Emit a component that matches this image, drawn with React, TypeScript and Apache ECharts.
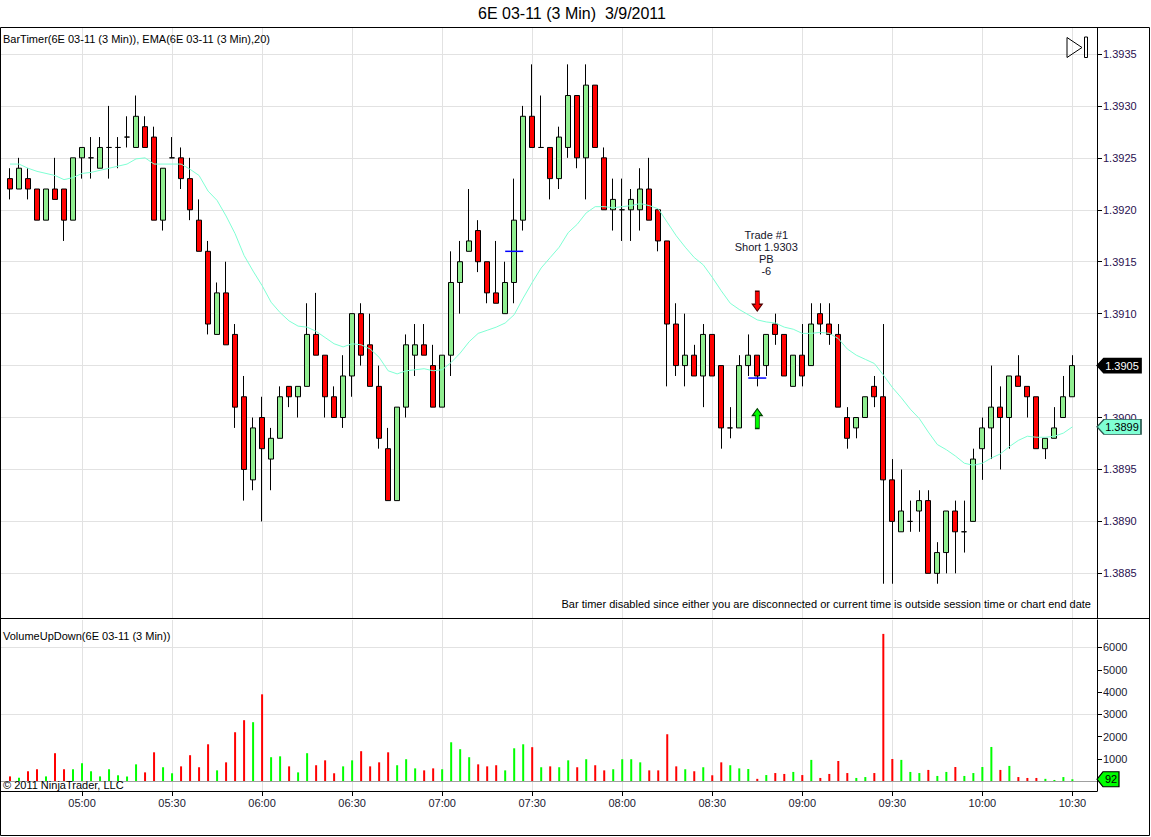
import React, { useEffect, useRef } from 'react';
import * as echarts from 'echarts';

// ---- data (3-minute bars, first bar at 04:36) ----
const START_MINUTE = 276; // 04:36
const BAR_MINUTES = 3;

const OPENS = [
  1.3923, 1.3922, 1.3923, 1.3922, 1.3919, 1.3922, 1.3922, 1.3919, 1.3925, 1.3925,
  1.3924, 1.3926, 1.3926, 1.3927, 1.3926, 1.3928, 1.3927, 1.3919, 1.3925, 1.3925,
  1.3923, 1.3919, 1.3916, 1.3908, 1.3912, 1.3908, 1.3902, 1.3894, 1.3900, 1.3896,
  1.3898, 1.3903, 1.3902, 1.3903, 1.3908, 1.3906, 1.3902, 1.3900, 1.3904, 1.3910,
  1.3907, 1.3903, 1.3897, 1.3892, 1.3901, 1.3906, 1.3907, 1.3905, 1.3901, 1.3906,
  1.3913, 1.3916, 1.3918, 1.3915, 1.3912, 1.3910, 1.3913, 1.3919, 1.3929, 1.3926,
  1.3926, 1.3923, 1.3926, 1.3931, 1.3925, 1.3932, 1.3925, 1.3920, 1.3920, 1.3920,
  1.3920, 1.3922, 1.3920, 1.3917, 1.3909, 1.3905, 1.3906, 1.3904, 1.3908, 1.3905,
  1.3899, 1.3899, 1.3905, 1.3906, 1.3905, 1.3909, 1.3908, 1.3903, 1.3906, 1.3905,
  1.3910, 1.3909, 1.3908, 1.3900, 1.3899, 1.3900, 1.3903, 1.3902, 1.3894, 1.3889,
  1.3890, 1.3891, 1.3892, 1.3885, 1.3887, 1.3891, 1.3889, 1.3890, 1.3897, 1.3899,
  1.3901, 1.3900, 1.3904, 1.3903, 1.3902, 1.3897, 1.3898, 1.3900, 1.3902,
];

const CLOSES = [
  1.3922, 1.3924, 1.3922, 1.3919, 1.3922, 1.3921, 1.3919, 1.3925, 1.3926, 1.3925,
  1.3926, 1.3926, 1.3926, 1.3927, 1.3929, 1.3926, 1.3919, 1.3924, 1.3925, 1.3923,
  1.3920, 1.3916, 1.3909, 1.3912, 1.3907, 1.3901, 1.3895, 1.3899, 1.3897, 1.3898,
  1.3902, 1.3902, 1.3903, 1.3908, 1.3906, 1.3902, 1.3900, 1.3904, 1.3910, 1.3906,
  1.3903, 1.3898, 1.3892, 1.3901, 1.3907, 1.3907, 1.3906, 1.3901, 1.3906, 1.3913,
  1.3915, 1.3917, 1.3915, 1.3912, 1.3911, 1.3913, 1.3919, 1.3929, 1.3926, 1.3926,
  1.3923, 1.3927, 1.3931, 1.3925, 1.3932, 1.3926, 1.3920, 1.3921, 1.3920, 1.3921,
  1.3922, 1.3919, 1.3917, 1.3909, 1.3905, 1.3906, 1.3904, 1.3908, 1.3904, 1.3899,
  1.3899, 1.3905, 1.3906, 1.3904, 1.3908, 1.3908, 1.3904, 1.3906, 1.3904, 1.3909,
  1.3909, 1.3908, 1.3901, 1.3898, 1.3900, 1.3902, 1.3902, 1.3894, 1.3890, 1.3891,
  1.3890, 1.3892, 1.3885, 1.3887, 1.3891, 1.3889, 1.3889, 1.3896, 1.3899, 1.3901,
  1.3900, 1.3904, 1.3903, 1.3902, 1.3897, 1.3898, 1.3899, 1.3902, 1.3905,
];

const LOWS = [
  1.3921, 1.3922, 1.3921, 1.3919, 1.3919, 1.3921, 1.3917, 1.3919, 1.3923, 1.3923,
  1.3924, 1.3923, 1.3924, 1.3926, 1.3926, 1.3926, 1.3919, 1.3918, 1.3925, 1.3922,
  1.3919, 1.3916, 1.3908, 1.3908, 1.3907, 1.3899, 1.3892, 1.3893, 1.3890, 1.3893,
  1.3898, 1.3901, 1.3900, 1.3903, 1.3906, 1.3900, 1.3900, 1.3899, 1.3902, 1.3905,
  1.3903, 1.3897, 1.3892, 1.3892, 1.3900, 1.3904, 1.3906, 1.3901, 1.3901, 1.3904,
  1.3910, 1.3916, 1.3914, 1.3911, 1.3911, 1.3910, 1.3911, 1.3918, 1.3926, 1.3926,
  1.3921, 1.3922, 1.3925, 1.3924, 1.3921, 1.3926, 1.3920, 1.3918, 1.3917, 1.3917,
  1.3918, 1.3919, 1.3916, 1.3903, 1.3904, 1.3903, 1.3904, 1.3901, 1.3904, 1.3897,
  1.3898, 1.3899, 1.3904, 1.3903, 1.3904, 1.3907, 1.3904, 1.3903, 1.3903, 1.3905,
  1.3908, 1.3907, 1.3901, 1.3897, 1.3898, 1.3900, 1.3901, 1.3884, 1.3884, 1.3889,
  1.3889, 1.3889, 1.3885, 1.3884, 1.3885, 1.3885, 1.3887, 1.3890, 1.3894, 1.3896,
  1.3895, 1.3897, 1.3903, 1.3900, 1.3897, 1.3896, 1.3898, 1.3900, 1.3902,
];

const HIGHS = [
  1.3924, 1.3925, 1.3924, 1.3922, 1.3922, 1.3925, 1.3922, 1.3925, 1.3926, 1.3927,
  1.3927, 1.3930, 1.3927, 1.3929, 1.3931, 1.3929, 1.3928, 1.3924, 1.3927, 1.3926,
  1.3925, 1.3921, 1.3917, 1.3913, 1.3915, 1.3909, 1.3904, 1.3900, 1.3902, 1.3899,
  1.3903, 1.3903, 1.3903, 1.3911, 1.3912, 1.3906, 1.3903, 1.3906, 1.3910, 1.3911,
  1.3910, 1.3905, 1.3899, 1.3901, 1.3908, 1.3909, 1.3909, 1.3907, 1.3906, 1.3916,
  1.3917, 1.3922, 1.3919, 1.3915, 1.3917, 1.3915, 1.3923, 1.3930, 1.3934, 1.3931,
  1.3926, 1.3928, 1.3934, 1.3931, 1.3934, 1.3932, 1.3926, 1.3923, 1.3923, 1.3922,
  1.3924, 1.3925, 1.3920, 1.3917, 1.3911, 1.3910, 1.3907, 1.3909, 1.3908, 1.3905,
  1.3901, 1.3906, 1.3908, 1.3906, 1.3908, 1.3910, 1.3908, 1.3906, 1.3909, 1.3911,
  1.3911, 1.3911, 1.3909, 1.3901, 1.3900, 1.3902, 1.3904, 1.3909, 1.3896, 1.3895,
  1.3892, 1.3893, 1.3893, 1.3888, 1.3891, 1.3892, 1.3892, 1.3897, 1.3900, 1.3905,
  1.3903, 1.3904, 1.3906, 1.3903, 1.3902, 1.3898, 1.3901, 1.3904, 1.3906,
];

const VOLUMES = [
  220, 160, 450, 540, 220, 1260, 540, 540, 810, 450,
  220, 540, 270, 220, 760, 400, 1300, 630, 360, 670,
  1170, 630, 1660, 490, 850, 2200, 2740, 2650, 3900, 1080,
  1120, 670, 400, 1260, 720, 940, 360, 670, 940, 1350,
  670, 850, 1300, 720, 990, 580, 490, 580, 540, 1750,
  1440, 1080, 760, 670, 720, 490, 1480, 1660, 1530, 630,
  670, 630, 940, 630, 990, 720, 490, 540, 990, 990,
  850, 490, 490, 2110, 670, 540, 450, 630, 270, 850,
  720, 580, 550, 110, 280, 370, 330, 420, 280, 960,
  150, 330, 910, 370, 150, 190, 370, 6610, 1000, 960,
  420, 370, 510, 240, 420, 640, 240, 370, 640, 1540,
  510, 690, 190, 150, 150, 110, 60, 190, 92,
];

const EMA20 = [
  1.39244, 1.39244, 1.39240, 1.39237, 1.39235, 1.39233, 1.39229, 1.39231, 1.39235, 1.39236,
  1.39238, 1.39240, 1.39242, 1.39244, 1.39249, 1.39250, 1.39244, 1.39244, 1.39244, 1.39244,
  1.39239, 1.39233, 1.39218, 1.39209, 1.39194, 1.39177, 1.39156, 1.39141, 1.39127, 1.39111,
  1.39101, 1.39093, 1.39088, 1.39087, 1.39083, 1.39077, 1.39071, 1.39068, 1.39071, 1.39070,
  1.39066, 1.39058, 1.39045, 1.39042, 1.39045, 1.39046, 1.39047, 1.39045, 1.39046, 1.39053,
  1.39062, 1.39073, 1.39081, 1.39084, 1.39087, 1.39091, 1.39099, 1.39115, 1.39130, 1.39144,
  1.39154, 1.39164, 1.39178, 1.39186, 1.39197, 1.39203, 1.39203, 1.39202, 1.39203, 1.39204,
  1.39206, 1.39204, 1.39201, 1.39188, 1.39175, 1.39164, 1.39154, 1.39147, 1.39135, 1.39122,
  1.39110, 1.39104, 1.39099, 1.39094, 1.39092, 1.39091, 1.39087, 1.39085, 1.39081, 1.39081,
  1.39082, 1.39081, 1.39076, 1.39066, 1.39060, 1.39056, 1.39052, 1.39041, 1.39029, 1.39019,
  1.39008, 1.38999, 1.38986, 1.38974, 1.38969, 1.38963, 1.38956, 1.38954, 1.38956, 1.38961,
  1.38965, 1.38972, 1.38978, 1.38982, 1.38981, 1.38981, 1.38982, 1.38985, 1.38991,
];

const PRICE_TICKS = [1.3885, 1.389, 1.3895, 1.39, 1.3905, 1.391, 1.3915, 1.392, 1.3925, 1.393, 1.3935];
const VOLUME_TICKS = [1000, 2000, 3000, 4000, 5000, 6000];
const VOLUME_GRID_TICKS = [0, 3000, 6000];
const TIME_TICKS = [300, 330, 360, 390, 420, 450, 480, 510, 540, 570, 600, 630];

// trade markers
const ENTRY_BAR = 56;
const ENTRY_PRICE = 1.3916;
const TRADE_BAR = 83;
const EXIT_PRICE = 1.39038;
const DOWN_ARROW_PRICE = 1.39112;
const UP_ARROW_PRICE = 1.38999;
const TRADE_LABEL_PRICE = 1.39158;
const TRADE_TEXT = 'Trade #1\nShort 1.9303\nPB\n-6';

const TITLE = '6E 03-11 (3 Min)  3/9/2011';
const PRICE_PANEL_LABEL = 'BarTimer(6E 03-11 (3 Min)), EMA(6E 03-11 (3 Min),20)';
const VOLUME_PANEL_LABEL = 'VolumeUpDown(6E 03-11 (3 Min))';
const BAR_TIMER_MSG =
  'Bar timer disabled since either you are disconnected or current time is outside session time or chart end date';
const COPYRIGHT = '\u00A9 2011 NinjaTrader, LLC';

// axis extents
const X_MIN = 273;
const X_MAX = 638.2;
const P_MIN = 1.38807;
const P_MAX = 1.39375;
const V_MIN = -435;
const V_MAX = 7233;

const FONT = 'Arial, "Liberation Sans", sans-serif';

const DOWN_ARROW = 'path://M3,0L7,0L7,13L10,13L5,20L0,13L3,13Z';
const UP_ARROW = 'path://M5,0L10,7L7,7L7,20L3,20L3,7L0,7Z';
const TAG = 'path://M0,7.5L7,0L44,0L44,15L7,15Z';

const pad2 = (n: number) => String(n).padStart(2, '0');
const fmtTime = (m: number) => {
  const r = Math.round(m);
  if (Math.abs(m - r) > 1e-6 || r % 30 !== 0) return '';
  return `${pad2(Math.floor(r / 60))}:${pad2(r % 60)}`;
};
const fmtPrice = (v: number) => {
  const k = v / 0.0005;
  return Math.abs(k - Math.round(k)) < 1e-4 ? v.toFixed(4) : '';
};
const fmtVol = (v: number) => (v >= 1000 && v <= 6000 && Math.abs(v % 1000) < 1e-6 ? String(Math.round(v)) : '');

export default function App() {
  const ref = useRef<HTMLDivElement>(null);

  useEffect(() => {
    const el = ref.current;
    if (!el) return;
    const chart = echarts.init(el, undefined, { renderer: 'svg' });

    const times = OPENS.map((_, i) => START_MINUTE + i * BAR_MINUTES);
    const candleData = times.map((t, i) => [t, OPENS[i], CLOSES[i], LOWS[i], HIGHS[i]]);
    const emaData = times.map((t, i) => [t, EMA20[i]]);
    const volData = times.map((t, i) => ({
      value: [t, VOLUMES[i]],
      itemStyle: { color: CLOSES[i] >= OPENS[i] ? '#00FF00' : '#FF0000' },
    }));
    const last = times.length - 1;

    const axisLabelColor = '#2a1050';

    const option: any = {
      animation: false,
      backgroundColor: '#ffffff',
      textStyle: { fontFamily: FONT },
      grid: [
        { left: 1, right: 54, top: 28, bottom: 219, containLabel: false, outerBoundsMode: 'none' },
        { left: 1, right: 54, top: 620, bottom: 46, containLabel: false, outerBoundsMode: 'none' },
      ],
      xAxis: [
        {
          type: 'value',
          gridIndex: 0,
          min: X_MIN,
          max: X_MAX,
          minInterval: 30,
          maxInterval: 30,
          axisLine: { show: false, onZero: false },
          axisTick: { show: false, customValues: TIME_TICKS },
          axisLabel: { show: false, customValues: TIME_TICKS },
          splitLine: { show: true, lineStyle: { color: '#e2e2e2', width: 1 } },
        },
        {
          type: 'value',
          gridIndex: 1,
          position: 'bottom',
          min: X_MIN,
          max: X_MAX,
          minInterval: 30,
          maxInterval: 30,
          axisLine: { show: true, onZero: false, lineStyle: { color: '#000', width: 1 } },
          axisTick: { show: true, length: 5, inside: false, customValues: TIME_TICKS, lineStyle: { color: '#000' } },
          axisLabel: {
            customValues: TIME_TICKS,
            formatter: fmtTime,
            color: '#1a1a30',
            fontSize: 11,
            fontFamily: FONT,
            margin: 6,
          },
          splitLine: { show: true, lineStyle: { color: '#e2e2e2', width: 1 } },
        },
      ],
      yAxis: [
        {
          type: 'value',
          gridIndex: 0,
          position: 'right',
          min: P_MIN,
          max: P_MAX,
          minInterval: 0.0005,
          maxInterval: 0.0005,
          axisLine: { show: true, onZero: false, lineStyle: { color: '#000', width: 1 } },
          axisTick: { show: true, length: 5, customValues: PRICE_TICKS, lineStyle: { color: '#000' } },
          axisLabel: {
            customValues: PRICE_TICKS,
            formatter: fmtPrice,
            color: axisLabelColor,
            fontSize: 11,
            fontFamily: FONT,
            margin: 6,
          },
          splitLine: { show: true, lineStyle: { color: '#e2e2e2', width: 1 } },
        },
        {
          type: 'value',
          gridIndex: 1,
          position: 'right',
          min: V_MIN,
          max: V_MAX,
          minInterval: 1000,
          maxInterval: 1000,
          axisLine: { show: true, onZero: false, lineStyle: { color: '#000', width: 1 } },
          axisTick: { show: true, length: 5, customValues: VOLUME_TICKS, lineStyle: { color: '#000' } },
          axisLabel: {
            customValues: VOLUME_TICKS,
            formatter: fmtVol,
            color: '#1a1a30',
            fontSize: 11,
            fontFamily: FONT,
            margin: 6,
          },
          splitLine: { show: false },
        },
        {
          type: 'value',
          gridIndex: 1,
          position: 'left',
          min: V_MIN,
          max: V_MAX,
          minInterval: 3000,
          maxInterval: 3000,
          axisLine: { show: false, onZero: false },
          axisTick: { show: false, customValues: VOLUME_GRID_TICKS },
          axisLabel: { show: false, customValues: VOLUME_GRID_TICKS },
          splitLine: { show: true, lineStyle: { color: '#e2e2e2', width: 1 } },
        },
      ],
      series: [
        {
          type: 'candlestick',
          name: '6E 03-11',
          xAxisIndex: 0,
          yAxisIndex: 0,
          data: candleData,
          barWidth: 5.5,
          clip: false,
          silent: true,
          itemStyle: {
            color: '#90EE90',
            color0: '#FF0000',
            borderColor: '#000000',
            borderColor0: '#000000',
            borderColorDoji: '#000000',
            borderWidth: 1,
          },
          markPoint: {
            silent: true,
            animation: false,
            label: { show: false },
            data: [
              {
                name: 'entry',
                coord: [times[ENTRY_BAR], ENTRY_PRICE],
                symbol: 'rect',
                symbolSize: [18, 1.5],
                itemStyle: { color: '#0000FF', borderWidth: 0 },
              },
              {
                name: 'exit',
                coord: [times[TRADE_BAR], EXIT_PRICE],
                symbol: 'rect',
                symbolSize: [18, 1.5],
                itemStyle: { color: '#0000FF', borderWidth: 0 },
              },
              {
                name: 'down',
                coord: [times[TRADE_BAR], DOWN_ARROW_PRICE],
                symbol: DOWN_ARROW,
                symbolSize: [10, 20],
                itemStyle: { color: '#FF0000', borderColor: '#500000', borderWidth: 1 },
              },
              {
                name: 'up',
                coord: [times[TRADE_BAR], UP_ARROW_PRICE],
                symbol: UP_ARROW,
                symbolSize: [10, 20],
                itemStyle: { color: '#00FF00', borderColor: '#004000', borderWidth: 1 },
              },
              {
                name: 'trade',
                coord: [times[TRADE_BAR], TRADE_LABEL_PRICE],
                symbol: 'rect',
                symbolSize: 1,
                itemStyle: { color: 'rgba(0,0,0,0)', borderWidth: 0 },
                label: {
                  show: true,
                  position: 'inside',
                  offset: [9, 0],
                  formatter: TRADE_TEXT,
                  color: '#14142a',
                  fontSize: 11,
                  fontFamily: FONT,
                  lineHeight: 12,
                  align: 'center',
                  verticalAlign: 'middle',
                },
              },
              {
                name: 'lastClose',
                coord: [X_MAX, CLOSES[last]],
                symbol: TAG,
                symbolSize: [44, 15],
                symbolOffset: [22, 0],
                itemStyle: { color: '#000000', borderColor: '#000000', borderWidth: 1 },
                label: {
                  show: true,
                  position: 'inside',
                  offset: [3, 0],
                  formatter: CLOSES[last].toFixed(4),
                  color: '#ffffff',
                  fontSize: 11,
                  fontFamily: FONT,
                },
              },
            ],
          },
        },
        {
          type: 'line',
          name: 'EMA',
          xAxisIndex: 0,
          yAxisIndex: 0,
          data: emaData,
          symbol: 'none',
          showSymbol: false,
          clip: false,
          silent: true,
          lineStyle: { color: '#7FFFD4', width: 1 },
          markPoint: {
            silent: true,
            animation: false,
            label: { show: false },
            data: [
              {
                name: 'lastEma',
                coord: [X_MAX, EMA20[last]],
                symbol: TAG,
                symbolSize: [44, 15],
                symbolOffset: [22, 0],
                itemStyle: { color: '#7FFFD4', borderColor: '#2a5a50', borderWidth: 1 },
                label: {
                  show: true,
                  position: 'inside',
                  offset: [3, 0],
                  formatter: EMA20[last].toFixed(4),
                  color: '#000000',
                  fontSize: 11,
                  fontFamily: FONT,
                },
              },
            ],
          },
        },
        {
          type: 'bar',
          name: 'Volume',
          xAxisIndex: 1,
          yAxisIndex: 1,
          data: volData,
          barWidth: 2,
          clip: false,
          silent: true,
          markLine: {
            silent: true,
            animation: false,
            symbol: ['none', 'none'],
            label: { show: false },
            lineStyle: { color: '#a0a0a0', width: 1, type: 'solid' },
            data: [{ yAxis: 0 }],
          },
          markPoint: {
            silent: true,
            animation: false,
            label: { show: false },
            data: [
              {
                name: 'lastVol',
                coord: [X_MAX, VOLUMES[last]],
                symbol: 'path://M0,7.5L6,0L22,0L22,15L6,15Z',
                symbolSize: [22, 15],
                symbolOffset: [11, 0],
                itemStyle: { color: '#00FF00', borderColor: '#000000', borderWidth: 1 },
                label: {
                  show: true,
                  position: 'inside',
                  offset: [3, 0],
                  formatter: String(VOLUMES[last]),
                  color: '#000000',
                  fontSize: 11,
                  fontFamily: FONT,
                },
              },
            ],
          },
        },
      ],
      graphic: [
        {
          type: 'rect',
          z: 100,
          silent: true,
          shape: { x: 0.5, y: 27.5, width: 1149, height: 808 },
          style: { fill: 'none', stroke: '#000', lineWidth: 1 },
        },
        {
          type: 'line',
          z: 100,
          silent: true,
          shape: { x1: 0, y1: 618.5, x2: 1150, y2: 618.5 },
          style: { stroke: '#000', lineWidth: 1 },
        },
        {
          type: 'text',
          z: 100,
          silent: true,
          x: 572,
          y: 13,
          style: { text: TITLE, fill: '#000', font: `16px ${FONT}`, align: 'center', verticalAlign: 'middle' },
        },
        {
          type: 'text',
          z: 100,
          silent: true,
          x: 3,
          y: 39,
          style: { text: PRICE_PANEL_LABEL, fill: '#000', font: `11px ${FONT}`, align: 'left', verticalAlign: 'middle' },
        },
        {
          type: 'text',
          z: 100,
          silent: true,
          x: 1091,
          y: 604,
          style: { text: BAR_TIMER_MSG, fill: '#000', font: `11px ${FONT}`, align: 'right', verticalAlign: 'middle' },
        },
        {
          type: 'text',
          z: 100,
          silent: true,
          x: 3,
          y: 636,
          style: { text: VOLUME_PANEL_LABEL, fill: '#000', font: `11px ${FONT}`, align: 'left', verticalAlign: 'middle' },
        },
        {
          type: 'text',
          z: 100,
          silent: true,
          x: 3,
          y: 785,
          style: { text: COPYRIGHT, fill: '#000', font: `11px ${FONT}`, align: 'left', verticalAlign: 'middle' },
        },
        {
          type: 'polygon',
          z: 100,
          silent: true,
          shape: { points: [[1067, 37.5], [1082, 47.5], [1067, 57.5]] },
          style: { fill: 'none', stroke: '#000', lineWidth: 1 },
        },
        {
          type: 'rect',
          z: 100,
          silent: true,
          shape: { x: 1084.5, y: 37, width: 3, height: 20.5 },
          style: { fill: 'none', stroke: '#000', lineWidth: 1 },
        },
      ],
    };

    chart.setOption(option);
    return () => {
      chart.dispose();
    };
  }, []);

  return (
    <div
      ref={ref}
      style={{ position: 'fixed', left: 0, top: 0, width: 1151, height: 837, background: '#ffffff' }}
    />
  );
}
